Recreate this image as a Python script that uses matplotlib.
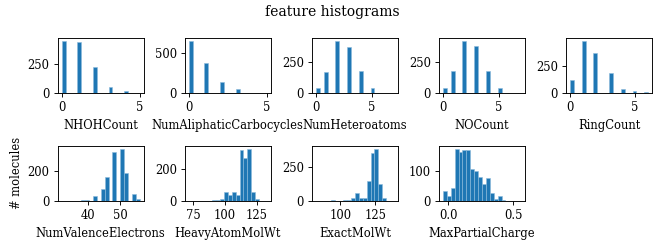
import numpy as np
import matplotlib
matplotlib.use("Agg")
import matplotlib.pyplot as plt

plt.rcParams['font.family'] = ['DejaVu Serif']

features = ["NHOHCount", "NumAliphaticCarbocycles", "NumHeteroatoms", "NOCount", "RingCount",
            "NumValenceElectrons", "HeavyAtomMolWt", "ExactMolWt", "MaxPartialCharge"]

# (min, max) of each feature -> 20 equal bins
ranges = {
    "NHOHCount": (0, 5),
    "NumAliphaticCarbocycles": (0, 5),
    "NumHeteroatoms": (0, 7),
    "NOCount": (0, 7),
    "RingCount": (0, 6),
    "NumValenceElectrons": (32, 56),
    "HeavyAtomMolWt": (71.5, 133.0),
    "ExactMolWt": (82.5, 138.5),
    "MaxPartialCharge": (-0.04, 0.56),
}

nhoh_counts = [447, 0, 0, 0, 432, 0, 0, 0, 221, 0, 0, 0, 48, 0, 0, 0, 18, 0, 0, 3]
carbo_counts = [648, 0, 0, 0, 374, 0, 0, 0, 132, 0, 0, 0, 47, 0, 0, 0, 2, 0, 0, 1]
hetero_counts = [44, 0, 168, 0, 0, 420, 0, 0, 373, 0, 0, 176, 0, 0, 44, 0, 0, 3, 0, 1]
no_counts = [44, 0, 173, 0, 0, 419, 0, 0, 373, 0, 0, 173, 0, 0, 39, 0, 0, 2, 0, 1]
ring_counts = [122, 0, 0, 475, 0, 0, 360, 0, 0, 0, 181, 0, 0, 41, 0, 0, 16, 0, 0, 8]
valence_counts = [0, 0, 0, 1, 0, 3, 9, 0, 31, 0, 78, 156, 0, 322, 0, 347, 187, 0, 44, 11]
heavy_counts = [1, 0, 0, 0, 0, 2, 3, 6, 13, 53, 36, 57, 40, 317, 270, 328, 53, 13, 0, 1]
exact_counts = [1, 0, 0, 0, 5, 0, 3, 5, 10, 18, 62, 22, 22, 147, 355, 385, 122, 22, 0, 1]
charge_counts = [33, 16, 45, 177, 166, 171, 171, 108, 100, 80, 56, 78, 26, 8, 17, 3, 0, 0, 0, 1]

counts = {
    "NHOHCount": nhoh_counts,
    "NumAliphaticCarbocycles": carbo_counts,
    "NumHeteroatoms": hetero_counts,
    "NOCount": no_counts,
    "RingCount": ring_counts,
    "NumValenceElectrons": valence_counts,
    "HeavyAtomMolWt": heavy_counts,
    "ExactMolWt": exact_counts,
    "MaxPartialCharge": charge_counts,
}

fig, axes = plt.subplots(2, 5, figsize=(8, 3), dpi=83)
fig.subplots_adjust(left=0.087, right=0.982, bottom=0.193, top=0.847, wspace=0.48, hspace=0.96)

for ax, name in zip(axes.flat, features):
    lo, hi = ranges[name]
    edges = np.linspace(lo, hi, 21)
    ax.hist(edges[:-1], bins=edges, weights=counts[name], color='#1f77b4',
            edgecolor='#8dbbdc', linewidth=0.5)
    ax.set_xlabel(name)

axes[1, 4].axis('off')
axes[1, 0].set_ylabel('# molecules')
fig.suptitle('feature histograms')

fig.savefig('out.png', dpi=83)
